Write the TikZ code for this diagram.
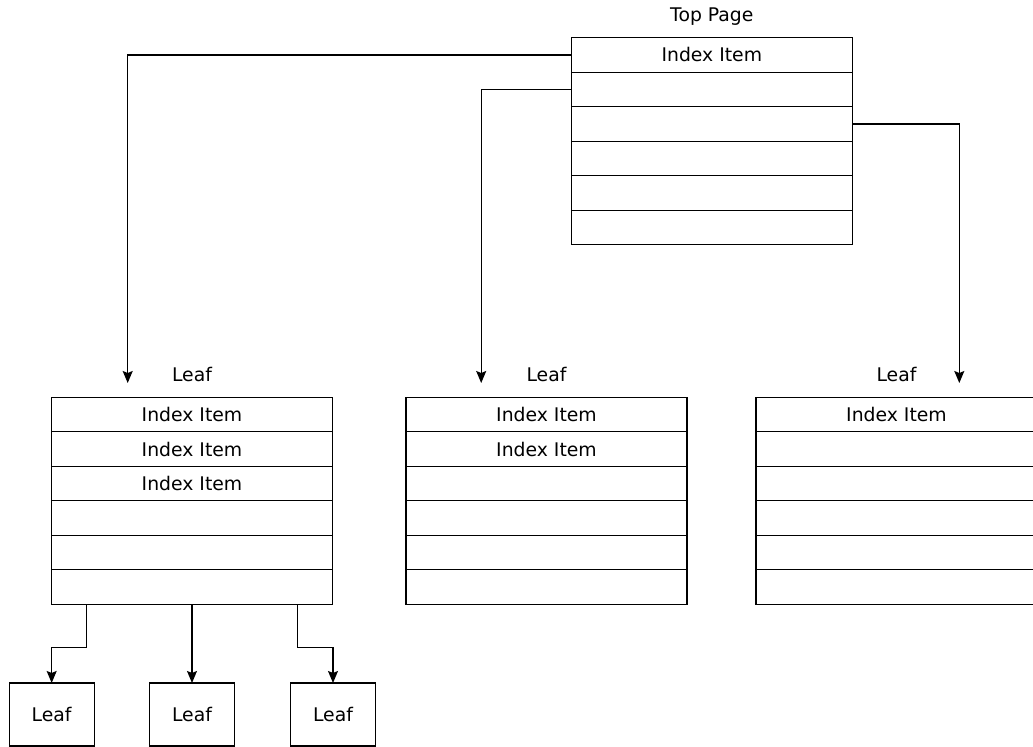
\documentclass[tikz,border=0pt]{standalone}
\usepackage{fontspec}
\setmainfont{DejaVu Sans}
\usetikzlibrary{positioning, calc, arrows.meta}
\tikzset{zeile/.style={rectangle,draw,line width=0.9pt,minimum width=210.75pt,minimum height=25.875pt,inner sep=0pt,outer sep=0pt,font=\fontsize{14.1}{17}\selectfont},
	blattbox/.style={rectangle,draw,line width=0.9pt,minimum width=63.75pt,minimum height=47.25pt,inner sep=0pt,outer sep=0pt,font=\fontsize{14.1}{17}\selectfont},
	titel/.style={anchor=base,inner sep=0pt,font=\fontsize{14.1}{17}\selectfont},
	pfeil/.style={draw,line width=0.9pt,-{Stealth[length=9pt,width=7.5pt,inset=1.5pt]}} }

\begin{document}
\begin{tikzpicture}[x=0.75pt,y=-0.75pt]
  \useasboundingbox (0,0) rectangle (1033,747);
  \clip (0,0) rectangle (1033,747);

  % Top Page
  \node (t1) [zeile] at (711.8,54.95) {Index Item};
  \node (t2) [zeile, below=0pt of t1] {};
  \node (t3) [zeile, below=0pt of t2] {};
  \node (t4) [zeile, below=0pt of t3] {};
  \node (t5) [zeile, below=0pt of t4] {};
  \node (t6) [zeile, below=0pt of t5] {};
  \node (toptitel) [titel] at ($(t1.north)+(0,-16)$) {Top Page};

  % linkes Blatt
  \node (l1) [zeile] at (192,414.55) {Index Item};
  \node (l2) [zeile, below=0pt of l1] {Index Item};
  \node (l3) [zeile, below=0pt of l2] {Index Item};
  \node (l4) [zeile, below=0pt of l3] {};
  \node (l5) [zeile, below=0pt of l4] {};
  \node (l6) [zeile, below=0pt of l5] {};
  \node (ltitel) [titel] at ($(l1.north)+(0,-15.6)$) {Leaf};

  % mittleres Blatt
  \node (m1) [zeile] at (546.5,414.55) {Index Item};
  \node (m2) [zeile, below=0pt of m1] {Index Item};
  \node (m3) [zeile, below=0pt of m2] {};
  \node (m4) [zeile, below=0pt of m3] {};
  \node (m5) [zeile, below=0pt of m4] {};
  \node (m6) [zeile, below=0pt of m5] {};
  \node (mtitel) [titel] at ($(m1.north)+(0,-15.6)$) {Leaf};

  % rechtes Blatt
  \node (r1) [zeile] at (896.5,414.55) {Index Item};
  \node (r2) [zeile, below=0pt of r1] {};
  \node (r3) [zeile, below=0pt of r2] {};
  \node (r4) [zeile, below=0pt of r3] {};
  \node (r5) [zeile, below=0pt of r4] {};
  \node (r6) [zeile, below=0pt of r5] {};
  \node (rtitel) [titel] at ($(r1.north)+(0,-15.6)$) {Leaf};

  % untere Blaetter
  \node (k2) [blattbox, below=59pt of l6] {Leaf};
  \node (k1) [blattbox, left=41.5pt of k2] {Leaf};
  \node (k3) [blattbox, right=42pt of k2] {Leaf};

  \coordinate (e1) at (127.7,383);
  \coordinate (e2) at (481.2,383);
  \coordinate (e3) at (959.3,383);

  \draw[pfeil] (t1.west) -| (e1);
  \draw[pfeil] (t2.west) -| (e2);
  \draw[pfeil] (t3.east) -| (e3);

  \draw[pfeil] ($(l6.south west)!0.125!(l6.south east)$) -- ++(0,43) -| (k1.north);
  \draw[pfeil] (l6.south) -- (k2.north);
  \draw[pfeil] ($(l6.south west)!0.875!(l6.south east)$) -- ++(0,43) -| (k3.north);
\end{tikzpicture}
\end{document}
